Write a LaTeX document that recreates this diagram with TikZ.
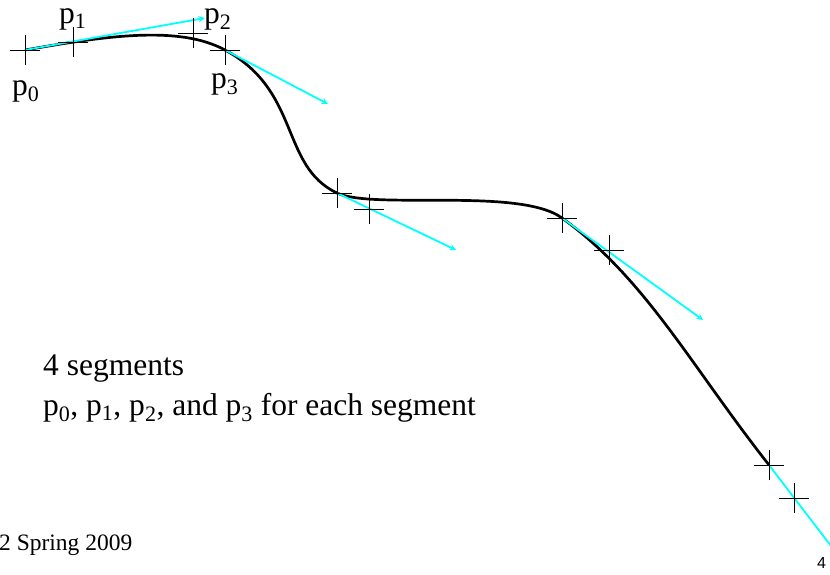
\documentclass[tikz,border=0pt]{standalone}
\usepackage{fontspec}
\setmainfont{Liberation Serif}
\setsansfont{Liberation Sans}
\definecolor{aqua}{RGB}{0,255,255}
\begin{document}
\begin{tikzpicture}[x=1pt,y=-1pt,
    spline/.style={line width=2.7pt},
    tangent/.style={aqua,line width=1.8pt,-stealth},
    knotmark/.style={line width=0.9pt},
    plabel/.style={inner sep=0pt,anchor=base west,font=\fontsize{31.5}{38}\selectfont}]
    \useasboundingbox (0,0) rectangle (830,574);
    \clip (0,0) rectangle (830,574);
    \coordinate (k0) at (25,50);
    \coordinate (c01) at (73,42);
    \coordinate (c02) at (193,33);
    \coordinate (k1) at (225,50);
    \coordinate (k2) at (337,193);
    \coordinate (c21) at (369,209);
    \coordinate (k3) at (562,218);
    \coordinate (c31) at (609,250);
    \coordinate (k4) at (769,465);
    \coordinate (c41) at (794,498);
    \draw [spline] (k0) .. controls (106,36) and (179,25) .. (k1)
        .. controls (301,91) and (280,166) .. (k2)
        .. controls (373,210) and (520,187) .. (k3)
        .. controls (646,279) and (691,366) .. (k4);
    \draw [tangent] (k0) -- (205,18);
    \draw [tangent] (k1) -- (328,104);
    \draw [tangent] (k2) -- (456,250);
    \draw [tangent] (k3) -- (703,320);
    \draw [tangent] (k4) -- (870,597);
    \foreach \c in {k0,c01,c02,k1,k2,c21,k3,c31,k4,c41}
        \draw [knotmark] (\c) ++(-15,0) -- ++(30,0) (\c) ++(0,-15) -- ++(0,30);
    \node [plabel] (l0) at (12,95) {p\textsubscript{0}};
    \node [plabel] (l1) at (59,23) {p\textsubscript{1}};
    \node [plabel] (l2) at (204,23) {p\textsubscript{2}};
    \node [plabel] (l3) at (211,88) {p\textsubscript{3}};
    \node [plabel] (segs) at (43,375) {4 segments};
    \node [plabel] (each) at (43,415) {p\textsubscript{0}, p\textsubscript{1}, p\textsubscript{2}, and p\textsubscript{3} for each segment};
    \node [inner sep=0pt,anchor=base west,font=\fontsize{23.5}{28}\selectfont] (foot) at (-1,550) {2 Spring 2009};
    \node [inner sep=0pt,anchor=base west,font=\sffamily\fontsize{16}{19}\selectfont] (page) at (817,568) {4};
\end{tikzpicture}
\end{document}
